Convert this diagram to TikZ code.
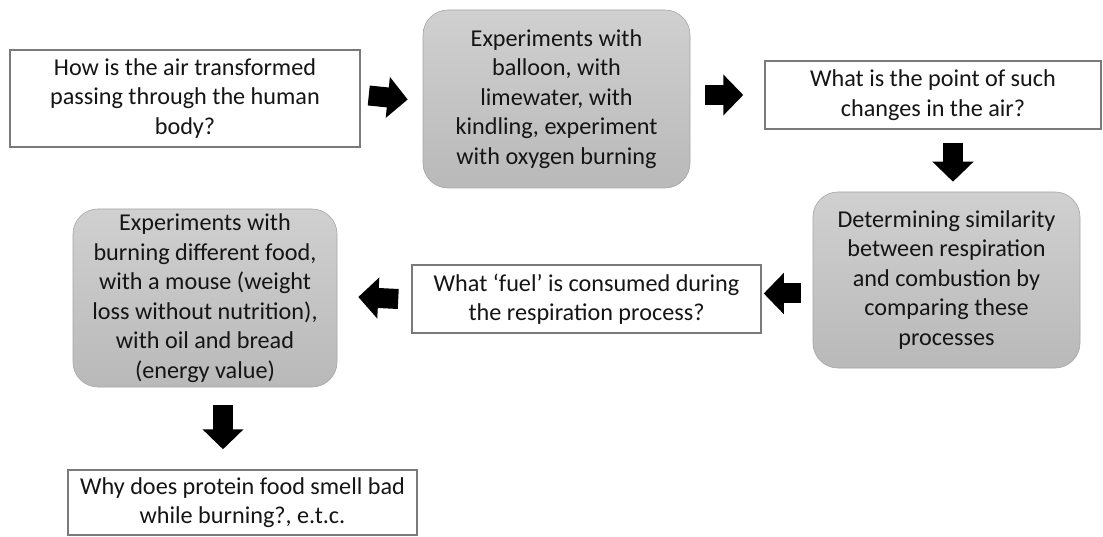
\documentclass[tikz,border=0pt]{standalone}
\usepackage{fontspec}
\setmainfont{Carlito}
\usetikzlibrary{arrows.meta}
\definecolor{txt}{HTML}{151515}
\definecolor{edge}{HTML}{7A7A7A}
\definecolor{gtop}{HTML}{D0D0D0}
\definecolor{gbot}{HTML}{B9B9B9}
\begin{document}
\begin{tikzpicture}[x=1pt,y=-1pt,
  every node/.style={font=\fontsize{24.2}{29.5}\selectfont, text=txt, align=center, inner sep=0pt},
  qbox/.style={draw=edge, line width=1.5pt, fill=white},
  gbox/.style={draw=gbot!90!black, line width=0.6pt, rounded corners=25pt, top color=gtop, bottom color=gbot},
  blk/.style={line width=20pt, black, -{Triangle[length=20pt,width=40pt]}}]
\useasboundingbox[fill=white] (0,0) rectangle (1103,537);

\node[qbox, minimum width=350pt, minimum height=97pt] (b1) at (185,98.5)
  {How is the air transformed\\passing through the human\\body?};
\node[gbox, minimum width=267pt, minimum height=178pt] (b2) at (556.5,99)
  {Experiments with\\balloon, with\\limewater, with\\kindling, experiment\\with oxygen burning};
\node[qbox, minimum width=336pt, minimum height=68pt] (b3) at (933,95)
  {What is the point of such\\changes in the air?};
\node[gbox, minimum width=267pt, minimum height=176pt] (b4) at (946.5,280)
  {Determining similarity\\between respiration\\and combustion by\\comparing these\\processes};
\node[qbox, minimum width=349pt, minimum height=68pt] (b5) at (586.5,299)
  {What ‘fuel’ is consumed during\\the respiration process?};
\node[gbox, minimum width=264pt, minimum height=178pt] (b6) at (205,298)
  {Experiments with\\burning different food,\\with a mouse (weight\\loss without nutrition),\\with oil and bread\\(energy value)};
\node[qbox, minimum width=349pt, minimum height=65pt] (b7) at (242.5,502.5)
  {Why does protein food smell bad\\while burning?, e.t.c.};

\draw[blk] ([xshift=8pt,yshift=3pt]b1.east) -- ([xshift=-15pt,yshift=-0.5pt]b2.west);
\draw[blk] ([xshift=15pt,yshift=4pt]b2.east) -- ([xshift=-21pt]b3.west);
\draw[blk] ([xshift=20pt,yshift=-13pt]b3.south) -- ([xshift=6.5pt,yshift=10pt]b4.north);
\draw[blk] ([xshift=-12pt,yshift=-13.5pt]b4.west) -- ([xshift=2pt,yshift=5.5pt]b5.east);
\draw[blk] ([xshift=-13pt]b5.west) -- ([xshift=21pt,yshift=1pt]b6.east);
\draw[blk] ([xshift=18pt,yshift=-18pt]b6.south) -- ([xshift=-19.5pt,yshift=20pt]b7.north);
\end{tikzpicture}
\end{document}
